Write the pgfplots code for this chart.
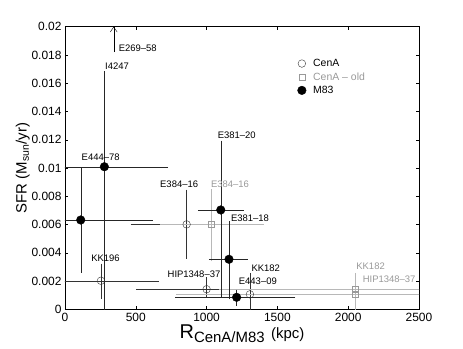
\documentclass[border=0pt]{standalone}
\usepackage{pgfplots}
\pgfplotsset{compat=1.18}
\usepackage{pgfplotstable}
\usetikzlibrary{arrows.meta}
\usepackage{fontspec}
\setmainfont{Liberation Sans}
\definecolor{oldgray}{rgb}{0.6,0.6,0.6}
\definecolor{oldline}{rgb}{0.72,0.72,0.72}

% x y xm xp ym yp
\pgfplotstableread{
x    y       xm   xp   ym      yp
254  0.00202 300  393  0.00113 0.00107
859  0.00601 381  377  0.00229 0.00231
1000 0.00142 482  476  0.00040 0.00070
1306 0.00106 282  314  0.00106 0.00137
}\cena
\pgfplotstableread{
x    y       xm   xp   ym      yp
1036 0.00601 351  353  0.00247 0.00236
2050 0.00142 950  600  0.00030 0.00030
2050 0.00106 1250 600  0.00106 0.00137
}\cenaold
\pgfplotstableread{
x    y       xm   xp   ym      yp
278  0.01009 330  437  0.01009 0.00661
111  0.00632 200  496  0.00359 0.00360
1100 0.00703 147  148  0.00600 0.00476
1158 0.00354 127  118  0.00270 0.00255
1212 0.00085 419  400  0.00048 0.00040
}\mes

\begin{document}
\begin{tikzpicture}
\begin{axis}[
    width=354bp, height=282.6bp, scale only axis,
    xmin=0, xmax=2500, ymin=0, ymax=0.02,
    xtick={0,500,...,2500},
    ytick={0,0.002,...,0.0201},
    scaled y ticks=false,
    xticklabel style={/pgf/number format/set thousands separator={}},
    yticklabel style={/pgf/number format/fixed, /pgf/number format/precision=3},
    /pgf/number format/assume math mode=true,
    tick align=inside,
    tick style={black, thin},
    major tick length=3bp,
    ticklabel style={font=\fontsize{12}{14}\selectfont},
    xlabel={\fontsize{20}{22}\selectfont R\textsubscript{\fontsize{15}{16}\selectfont CenA/M83}\hspace{6bp}{\fontsize{15}{16}\selectfont(kpc)}},
    ylabel={\fontsize{15}{17}\selectfont SFR (M\textsubscript{sun}/yr)},
    xlabel style={yshift=3bp},
    ylabel style={yshift=-5bp},
    legend style={at={(axis cs:1620,0.0180)}, anchor=north west, draw=none, fill=none,
        font=\fontsize{10.5}{12}\selectfont, row sep=0.5bp,
        /tikz/every odd column/.append style={column sep=5bp}},
    legend cell align=left,
]
\addplot[only marks, mark=o, mark size=3.8bp, black!80, thin,
    error bars/.cd, x dir=both, x explicit, y dir=both, y explicit,
    error mark options={mark size=2bp, black!80}]
    table[x=x, y=y, x error minus=xm, x error plus=xp, y error minus=ym, y error plus=yp] {\cena};
\addlegendentry{CenA}
\addplot[only marks, mark=square, mark size=3bp, oldgray, thin,
    error bars/.cd, x dir=both, x explicit, y dir=both, y explicit,
    error bar style={oldline}, error mark options={mark size=2bp, oldline}]
    table[x=x, y=y, x error minus=xm, x error plus=xp, y error minus=ym, y error plus=yp] {\cenaold};
\addlegendentry{\textcolor{oldgray}{CenA -- old}}
\addplot[only marks, mark=*, mark size=4.3bp, black, thin,
    error bars/.cd, x dir=both, x explicit, y dir=both, y explicit,
    error bar style={black!85}, error mark options={mark size=2bp, black!85}]
    table[x=x, y=y, x error minus=xm, x error plus=xp, y error minus=ym, y error plus=yp] {\mes};
\addlegendentry{M83}

\coordinate (arrA) at (axis cs:344,0.0182);
\coordinate (arrB) at (axis cs:344,0.0200);
\begin{scope}[font=\fontsize{9.5}{11}\selectfont]
\node at (axis cs:514,0.01851) {E269--58};
\node at (axis cs:367,0.01724) {I4247};
\node at (axis cs:252,0.01076) {E444--78};
\node at (axis cs:806,0.00885) {E384--16};
\node[oldgray] at (axis cs:1165,0.00885) {E384--16};
\node at (axis cs:1213,0.01234) {E381--20};
\node at (axis cs:1307,0.00644) {E381--18};
\node at (axis cs:286,0.00361) {KK196};
\node at (axis cs:911,0.00248) {HIP1348--37};
\node at (axis cs:1418,0.00294) {KK182};
\node at (axis cs:1362,0.00200) {E443--09};
\node[oldgray] at (axis cs:2158,0.00302) {KK182};
\node[oldgray] at (axis cs:2289,0.00214) {HIP1348--37};
\end{scope}
\end{axis}
\draw[-{Straight Barb[length=5bp,width=7bp]}, thin] (arrA) -- (arrB);
\path (current axis.south west) ++(-65bp,-39.7bp) coordinate (bl);
\path (current axis.north east) ++(44bp,26.7bp) coordinate (tr);
\pgfresetboundingbox
\path[use as bounding box] (bl) rectangle (tr);
\end{tikzpicture}
\end{document}
